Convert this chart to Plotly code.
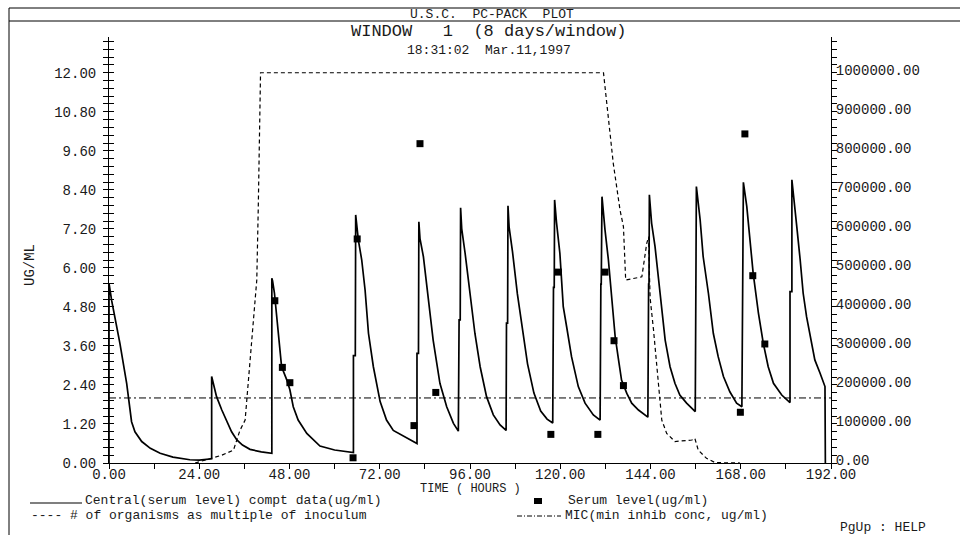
import plotly.graph_objects as go

# ---------------- data ----------------
# Central compartment (serum level) simulated concentration, ug/ml
time_h = [
    0.0, 0.0, 0.7, 1.6, 2.9, 4.7, 6.0, 6.9, 8.7, 11.0, 13.6, 17.0, 21.5, 24.0, 27.3,
    27.3, 28.6, 30.0, 31.3, 32.6, 34.0, 35.5, 37.5, 40.5, 43.3,
    43.3, 43.5, 44.0, 44.6, 45.3, 45.9, 47.3, 48.1, 49.0, 50.3, 52.6, 56.1, 60.0, 65.0,
    65.0, 65.5, 65.6, 66.3, 67.2, 68.1, 69.0, 70.3, 72.1, 73.8, 75.6, 79.2, 81.9,
    81.9, 82.3, 82.4, 82.7, 83.6, 84.9, 86.2, 88.0, 89.8, 91.6, 92.9,
    93.1, 93.4, 93.5, 93.8, 94.7, 96.0, 97.3, 98.7, 100.4, 102.2, 104.0, 105.6,
    105.7, 106.0, 106.1, 106.4, 107.3, 108.6, 109.9, 111.3, 113.0, 114.8, 116.5, 118.0,
    118.2, 118.4, 118.5, 119.0, 119.9, 120.8, 121.7, 123.0, 124.8, 126.6, 128.8, 130.6,
    130.8, 130.9, 131.1, 131.4, 131.9, 132.8, 133.7, 134.6, 135.5, 136.3, 137.7, 139.0, 140.8, 143.3,
    143.5, 143.6, 143.7, 144.3, 145.2, 146.1, 147.0, 147.9, 149.2, 150.5, 151.8, 153.6, 155.9,
    156.0, 156.1, 156.2, 157.2, 158.0, 159.4, 160.7, 162.0, 163.4, 165.1, 166.9, 168.3,
    168.5, 168.6, 168.7, 169.6, 170.5, 171.3, 172.7, 174.0, 175.3, 176.7, 178.9, 181.1,
    181.1, 181.6, 181.6, 182.0, 182.9, 183.8, 184.6, 185.5, 186.9, 187.7, 189.1, 190.4, 190.5,
]
conc = [
    0.0, 5.53, 5.0, 4.5, 3.68, 2.45, 1.27, 0.96, 0.66, 0.45, 0.30, 0.18, 0.10, 0.09, 0.13,
    2.66, 2.04, 1.63, 1.32, 0.96, 0.71, 0.55, 0.42, 0.34, 0.30,
    5.68, 5.6, 5.22, 4.5, 3.58, 2.96, 2.55, 2.25, 1.73, 1.32, 0.91, 0.52, 0.40, 0.32,
    3.3, 3.3, 7.63, 6.86, 6.25, 5.32, 3.99, 2.96, 1.89, 1.32, 1.0, 0.76, 0.60,
    3.37, 3.37, 7.42, 6.9, 6.35, 5.0, 3.78, 2.45, 1.73, 1.22, 0.98,
    4.4, 4.4, 7.85, 7.2, 6.45, 5.12, 3.99, 2.96, 2.04, 1.48, 1.17, 1.0,
    4.3, 4.3, 7.91, 7.25, 6.5, 5.2, 4.1, 3.05, 2.15, 1.6, 1.35, 1.23,
    5.4, 5.4, 8.09, 7.4, 6.45, 4.81, 4.19, 3.27, 2.35, 1.84, 1.48, 1.32,
    5.5, 5.5, 8.19, 7.68, 7.17, 6.25, 5.12, 3.89, 3.17, 2.55, 2.14, 1.84, 1.63, 1.41,
    5.5, 5.5, 8.25, 7.37, 6.66, 5.63, 4.71, 3.78, 2.96, 2.45, 2.09, 1.84, 1.58,
    5.6, 5.6, 8.5, 7.48, 6.35, 5.22, 3.99, 3.27, 2.66, 2.19, 1.84, 1.73,
    5.6, 5.6, 8.63, 7.89, 6.86, 5.84, 4.61, 3.68, 2.96, 2.45, 2.09, 1.86,
    5.27, 5.27, 8.71, 8.19, 7.27, 6.25, 5.22, 4.5, 3.58, 3.17, 2.76, 2.35, 0.0,
]

# Measured serum levels, ug/ml
obs_t = [44.1, 46.1, 48.1, 64.9, 66.0, 81.1, 82.7, 86.9, 117.5, 119.5,
         130.0, 131.9, 134.3, 136.8, 167.9, 169.1, 171.2, 174.4]
obs_c = [4.99, 2.94, 2.47, 0.16, 6.89, 1.15, 9.82, 2.17, 0.88, 5.87,
         0.88, 5.87, 3.76, 2.38, 1.56, 10.12, 5.76, 3.66]

# Number of organisms as multiple of inoculum (right axis)
org_t = [22.9, 26.9, 30.0, 33.1, 34.8, 36.2, 37.5, 39.3, 39.7, 40.3,
         131.5, 132.3, 134.1, 135.9, 136.8, 137.4, 141.7, 143.0, 143.5,
         143.7, 143.9, 144.8, 145.6, 146.5, 147.0, 148.3, 150.5, 155.0,
         155.8, 156.7, 158.9, 161.2, 167.8]
org_n = [0, 12000, 20000, 33000, 83000, 110000, 264000, 469000, 657000, 1000000,
         1000000, 931000, 768000, 648000, 606000, 469000, 477000, 563000, 580000,
         491000, 423000, 341000, 256000, 170000, 110000, 76000, 55000, 59000,
         63000, 33000, 12000, 1000, 0]

# MIC, ug/ml
mic_t = [0, 192]
mic_c = [2.0, 2.0]

x_ticks = [0, 24, 48, 72, 96, 120, 144, 168, 192]
left_dtick = 1.2
left_minor = 0.24
right_dtick = 100000
right_minor = 20000
Y_MAX = 13.1
RATIO = 1000000 / 12.0

# ---------------- layout helpers ----------------
L, R, T, B = 109, 129, 37, 72
W, H = 960, 535
PW, PH = W - L - R, H - T - B


def PX(px):
    return (px - L) / PW


def PY(py):
    return (H - B - py) / PH


FONT = "Liberation Mono, DejaVu Sans Mono, monospace"
INK = "#1a1a1a"

fig = go.Figure()
fig.add_trace(go.Scatter(x=time_h, y=conc, mode="lines", yaxis="y",
                         line=dict(color="black", width=1.7), showlegend=False))
fig.add_trace(go.Scatter(x=org_t, y=org_n, mode="lines", yaxis="y2",
                         line=dict(color="black", width=1.2, dash="4px,3px"),
                         showlegend=False))
fig.add_trace(go.Scatter(x=mic_t, y=mic_c, mode="lines", yaxis="y3",
                         line=dict(color="black", width=1, dash="7px,3px,2px,3px"),
                         showlegend=False))
fig.add_trace(go.Scatter(x=obs_t, y=obs_c, mode="markers", yaxis="y",
                         marker=dict(symbol="square", size=7, color="black"),
                         showlegend=False))

tick_common = dict(tickcolor="black", tickwidth=1, ticklen=5, showgrid=False,
                   zeroline=False)

fig.update_layout(
    width=W, height=H, autosize=False,
    margin=dict(l=L, r=R, t=T, b=B, pad=0),
    paper_bgcolor="white", plot_bgcolor="white",
    font=dict(family=FONT, size=14, color=INK),
    xaxis=dict(range=[0, 192], tickvals=x_ticks, tickformat=".2f", ticks="outside",
               showline=True, linecolor="black", linewidth=1,
               ticklabelstandoff=-7,
               minor=dict(dtick=12, tick0=0, ticks="outside", ticklen=5,
                          tickcolor="black"),
               tickfont=dict(family=FONT, size=14, color=INK), **tick_common),
    yaxis=dict(range=[0, Y_MAX], tick0=0, dtick=left_dtick, tickformat=".2f",
               ticks="outside", showline=True, linecolor="black", linewidth=1,
               anchor="x", side="left", ticklabelstandoff=4,
               minor=dict(dtick=left_minor, tick0=0, ticks="outside", ticklen=5,
                          tickcolor="black"),
               tickfont=dict(family=FONT, size=14, color=INK), **tick_common),
    yaxis3=dict(range=[0, Y_MAX], tick0=0, dtick=left_dtick, ticks="inside",
                overlaying="y", anchor="x", side="left", showticklabels=False,
                showline=False,
                minor=dict(dtick=left_minor, tick0=0, ticks="inside", ticklen=5,
                           tickcolor="black"), **tick_common),
    yaxis2=dict(range=[0, Y_MAX * RATIO], tick0=0, dtick=right_dtick,
                tickformat=".2f", ticks="outside", showline=True,
                linecolor="black", linewidth=1, overlaying="y", anchor="x",
                side="right", ticklabelstandoff=-4, ticklabelshift=-3,
                minor=dict(dtick=right_minor, tick0=0, ticks="outside",
                           ticklen=5, tickcolor="black"),
                tickfont=dict(family=FONT, size=14, color=INK), **tick_common),
    yaxis4=dict(range=[0, Y_MAX * RATIO], tick0=0, dtick=right_dtick,
                ticks="inside", overlaying="y", anchor="x", side="right",
                showticklabels=False, showline=False,
                minor=dict(dtick=right_minor, tick0=0, ticks="inside",
                           ticklen=5, tickcolor="black"), **tick_common),
)

NB = "\u00a0"


def ann(text, px, py, size=14, xanchor="left", angle=0):
    fig.add_annotation(text=text.replace(" ", NB), x=PX(px), y=PY(py),
                       xref="paper", yref="paper", showarrow=False,
                       xanchor=xanchor, yanchor="middle", textangle=angle,
                       font=dict(family=FONT, size=size, color=INK))


ann("U.S.C.  PC-PACK  PLOT", 492, 15, 13, "center")
ann("WINDOW   1  (8 days/window)", 488, 32, 17, "center")
ann("18:31:02  Mar.11,1997", 489, 50, 13, "center")
ann("UG/ML", 30, 265, 14, "center", -90)
ann("TIME ( HOURS )", 470, 489, 12, "center")
ann("Central(serum level) compt data(ug/ml)", 83, 500, 13)
ann("Serum level(ug/ml)", 566, 500, 13)
ann("---- # of organisms as multiple of inoculum", 29, 515, 13)
ann("MIC(min inhib conc, ug/ml)", 563, 515, 13)
ann("PgUp : HELP", 838, 527, 13)


def line(x0, y0, x1, y1, width=1, dash="solid"):
    fig.add_shape(type="line", xref="paper", yref="paper",
                  x0=PX(x0), y0=PY(y0), x1=PX(x1), y1=PY(y1),
                  line=dict(color="black", width=width, dash=dash))


# window frame
line(9, 8, 960, 8)
line(9, 21, 960, 21)
line(9, 8, 9, 535)
# legend samples
line(30, 503, 82, 503, 1.2)
line(517, 516, 561, 516, 1, "5px,2px,1px,2px")
fig.add_shape(type="rect", xref="paper", yref="paper",
              x0=PX(534), x1=PX(542), y0=PY(498), y1=PY(504),
              line=dict(color="black", width=0), fillcolor="black")

fig.write_html("out.html")
